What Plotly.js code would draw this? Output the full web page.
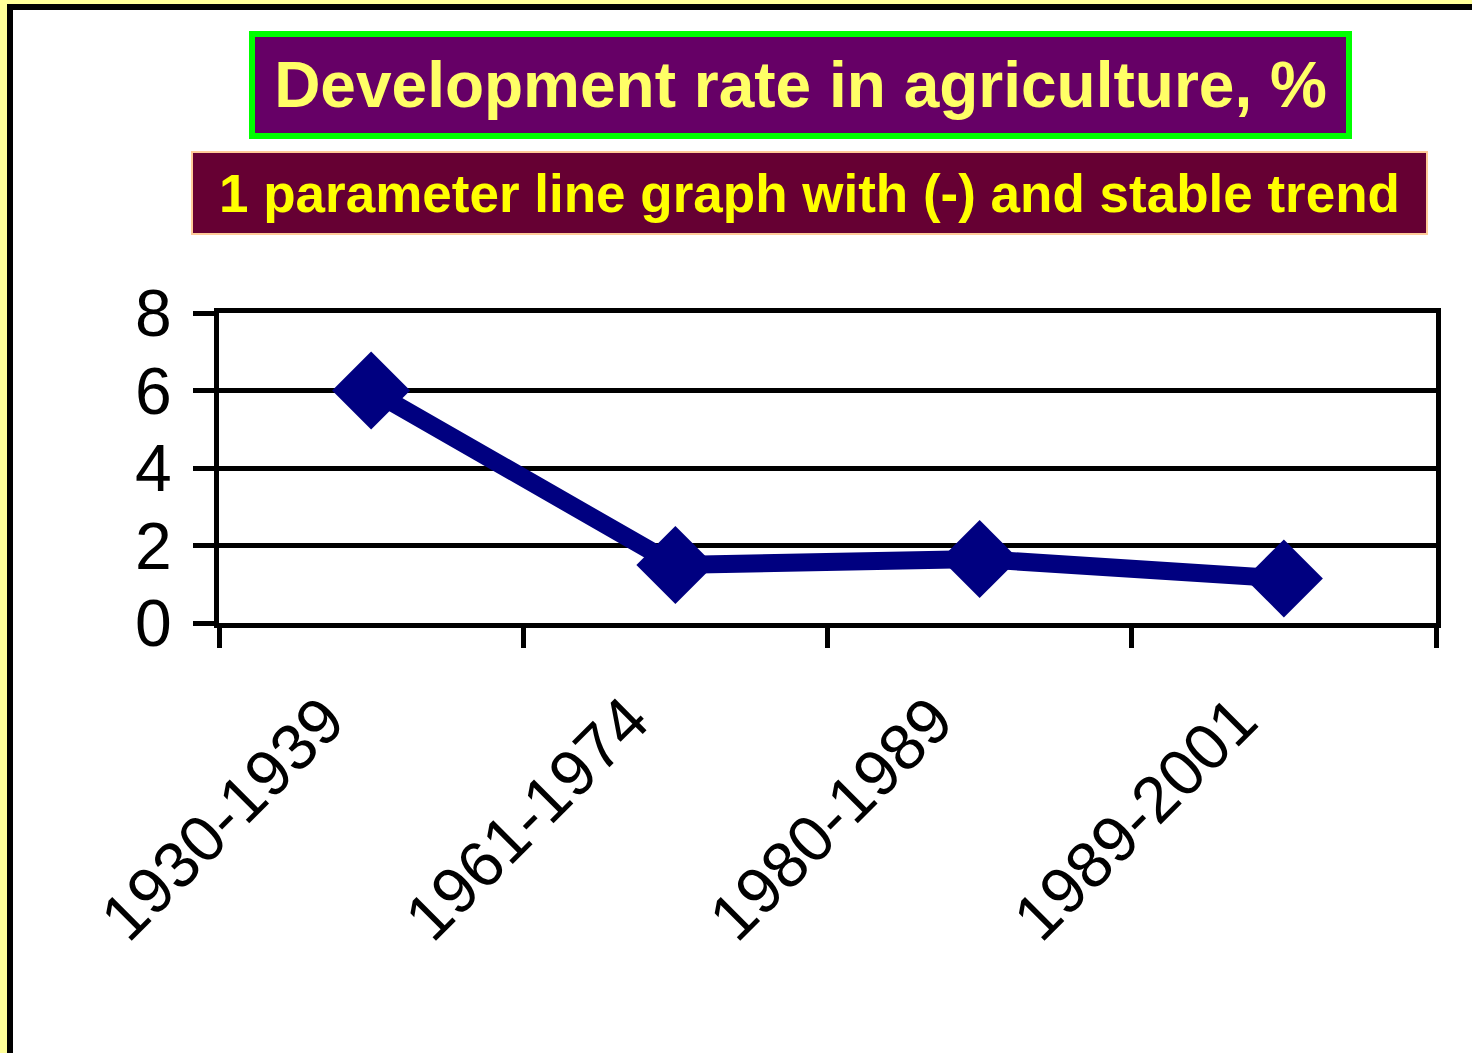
<!DOCTYPE html>
<html>
<head>
<meta charset="utf-8">
<script src="https://cdn.plot.ly/plotly-3.0.1.min.js"></script>
<style>
  html, body { margin: 0; padding: 0; background: #FFFF99; width: 1472px; height: 1053px; overflow: hidden; }
  #frame { position: absolute; left: 7px; top: 4px; width: 1500px; height: 1100px; background: #FFFFFF; border-left: 6px solid #000; border-top: 6px solid #000; }
  #chart { position: absolute; left: 0; top: 0; width: 1472px; height: 1053px; }
</style>
</head>
<body>
<div id="frame"></div>
<div id="chart"></div>
<script>
// ---- data ----
const categories = ["1930-1939", "1961-1974", "1980-1989", "1989-2001"];
const developmentRate = [6.0, 1.5, 1.65, 1.15];
const yTickValues = [0, 2, 4, 6, 8];
const titleText = "Development rate in agriculture, %";
const subtitleText = "1 parameter line graph with (-) and stable trend";

// ---- layout helpers ----
const W = 1472, H = 1053;
const M = { l: 219, r: W - 1436, t: 313, b: H - 623 };
const pw = W - M.l - M.r, ph = H - M.t - M.b;
const px = x => (x - M.l) / pw;
const py = y => (H - M.b - y) / ph;
const FONT = "Arial, 'Liberation Sans', sans-serif";

const trace = {
  type: "scatter",
  mode: "lines+markers",
  x: categories,
  y: developmentRate,
  line: { color: "#000080", width: 18 },
  marker: { symbol: "diamond", size: 60, color: "#000080" },
  cliponaxis: false,
  hoverinfo: "x+y"
};

const layout = {
  width: W, height: H,
  margin: M,
  paper_bgcolor: "rgba(0,0,0,0)",
  plot_bgcolor: "#FFFFFF",
  showlegend: false,
  font: { family: FONT, color: "#000000" },
  xaxis: {
    type: "category",
    tickson: "boundaries",
    ticks: "outside", ticklen: 20, tickwidth: 5, tickcolor: "#000",
    showline: true, linewidth: 5, linecolor: "#000", mirror: true,
    showgrid: false,
    tickangle: -45,
    tickfont: { family: FONT, size: 65, color: "#000" },
    ticklabelshift: -46,
    ticklabelstandoff: 28,
    range: [-0.5, 3.5]
  },
  yaxis: {
    range: [0, 8],
    tickvals: yTickValues,
    ticks: "outside", ticklen: 21, tickwidth: 5, tickcolor: "#000",
    showline: true, linewidth: 5, linecolor: "#000", mirror: true,
    showgrid: true, gridcolor: "#000", gridwidth: 5,
    zeroline: false,
    tickfont: { family: FONT, size: 66, color: "#000" },
    ticklabelstandoff: 8
  },
  annotations: [
    {
      xref: "paper", yref: "paper",
      x: px(800.5), y: py(85), xanchor: "center", yanchor: "middle",
      text: "<b>" + titleText + "</b>",
      showarrow: false,
      font: { family: FONT, size: 64, color: "#FFFF66" },
      bgcolor: "#660066", bordercolor: "#00FF00", borderwidth: 6, borderpad: 0,
      width: 1091, height: 96
    },
    {
      xref: "paper", yref: "paper",
      x: px(809.5), y: py(193), xanchor: "center", yanchor: "middle",
      text: "<b>" + subtitleText + "</b>",
      showarrow: false,
      font: { family: FONT, size: 53, color: "#FFFF00" },
      bgcolor: "#660033", bordercolor: "#FFCC99", borderwidth: 2, borderpad: 0,
      width: 1233, height: 80
    }
  ]
};

Plotly.newPlot("chart", [trace], layout, { displayModeBar: false, staticPlot: true });
</script>
</body>
</html>
